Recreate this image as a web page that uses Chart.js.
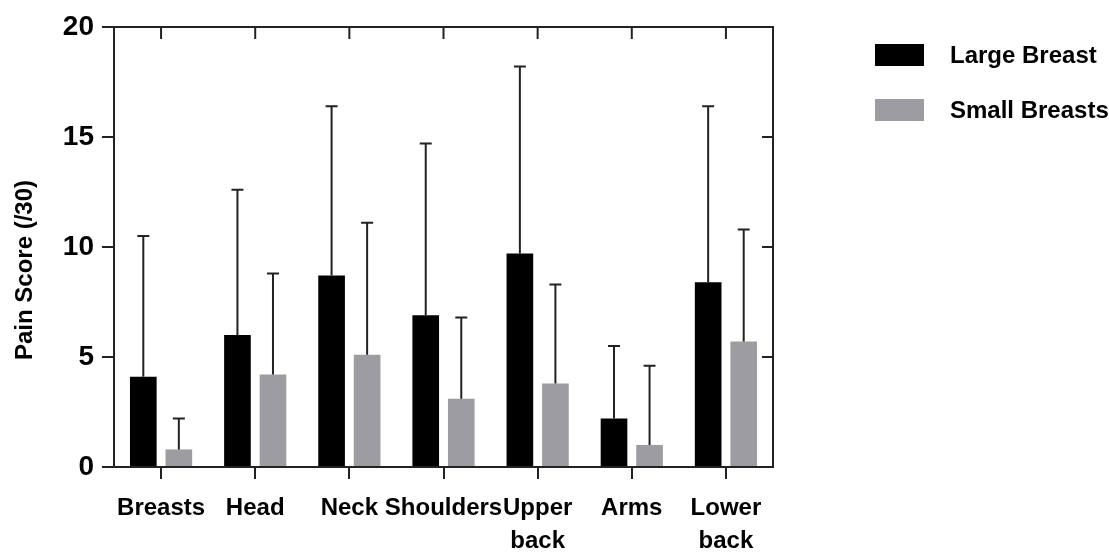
<!DOCTYPE html>
<html><head><meta charset="utf-8">
<script src="https://cdn.jsdelivr.net/npm/chart.js@4.4.0/dist/chart.umd.min.js"></script>
<style>html,body{margin:0;padding:0;background:#fff;} #wrap{width:1109px;height:556px;}</style>
</head><body><div id="wrap"><canvas id="c" width="1109" height="556"></canvas></div>
<script>
const categories = ['Breasts', 'Head', 'Neck', 'Shoulders', ['Upper', 'back'], 'Arms', ['Lower', 'back']];
const largeMeans = [4.1, 6.0, 8.7, 6.9, 9.7, 2.2, 8.4];
const largeSD    = [6.4, 6.6, 7.7, 7.8, 8.5, 3.3, 8.0];
const smallMeans = [0.8, 4.2, 5.1, 3.1, 3.8, 1.0, 5.7];
const smallSD    = [1.4, 4.6, 6.0, 3.7, 4.5, 3.6, 5.1];
const yTickValues = [0, 5, 10, 15, 20];
const seriesNames = ['Large Breast', 'Small Breasts'];
const yTitle = 'Pain Score (/30)';

const AXIS = '#222';
const SANS = '"Liberation Sans", Arial, sans-serif';

const errorBars = {
  id: 'errorBars',
  afterDatasetsDraw(chart) {
    const ctx = chart.ctx, y = chart.scales.y;
    chart.data.datasets.forEach((ds, i) => {
      const meta = chart.getDatasetMeta(i);
      meta.data.forEach((bar, j) => {
        const top = y.getPixelForValue(ds.data[j] + ds.errors[j]);
        ctx.save();
        ctx.strokeStyle = AXIS; ctx.lineWidth = 2;
        ctx.beginPath();
        ctx.moveTo(bar.x, bar.y); ctx.lineTo(bar.x, top);
        ctx.moveTo(bar.x - 6, top); ctx.lineTo(bar.x + 6, top);
        ctx.stroke();
        ctx.restore();
      });
    });
  }
};

const frame = {
  id: 'frame',
  afterDraw(chart) {
    const ctx = chart.ctx, a = chart.chartArea, x = chart.scales.x, y = chart.scales.y;
    ctx.save();
    ctx.strokeStyle = AXIS; ctx.lineWidth = 2;
    ctx.beginPath();
    ctx.moveTo(a.left, a.top); ctx.lineTo(a.right, a.top); ctx.lineTo(a.right, a.bottom);
    categories.forEach((c, i) => { const px = x.getPixelForValue(i); ctx.moveTo(px, a.top); ctx.lineTo(px, a.top + 12); });
    yTickValues.slice(1, -1).forEach(v => { const py = y.getPixelForValue(v); ctx.moveTo(a.right, py); ctx.lineTo(a.right - 11, py); });
    ctx.stroke();
    // y title
    ctx.fillStyle = '#000';
    ctx.font = 'bold 24px ' + SANS;
    ctx.textAlign = 'center'; ctx.textBaseline = 'middle';
    ctx.translate(a.left - 89, (a.top + a.bottom) / 2 + 23);
    ctx.rotate(-Math.PI / 2);
    ctx.fillText(yTitle, 0, 0);
    ctx.restore();
    // legend
    ctx.save();
    ctx.font = 'bold 24px ' + SANS;
    ctx.textAlign = 'left'; ctx.textBaseline = 'middle';
    chart.data.datasets.forEach((ds, i) => {
      const top = 44 + i * 55;
      ctx.fillStyle = ds.backgroundColor;
      ctx.fillRect(875, top, 49, 22);
      ctx.fillStyle = '#000';
      ctx.fillText(ds.label, 950, top + 12);
    });
    ctx.restore();
  }
};

new Chart(document.getElementById('c'), {
  type: 'bar',
  data: {
    labels: categories,
    datasets: [
      { label: seriesNames[0], data: largeMeans, errors: largeSD, backgroundColor: '#000000', borderWidth: 0, categoryPercentage: 0.755, barPercentage: 0.75 },
      { label: seriesNames[1], data: smallMeans, errors: smallSD, backgroundColor: '#9d9da1', borderWidth: 0, categoryPercentage: 0.755, barPercentage: 0.75 }
    ]
  },
  options: {
    responsive: false,
    animation: false,
    layout: { padding: { left: 0, right: 336, top: 27, bottom: 0 } },
    plugins: { legend: { display: false }, tooltip: { enabled: false }, title: { display: false } },
    scales: {
      x: {
        ticks: { color: '#000', font: { family: SANS, weight: 'bold', size: 24, lineHeight: 1.38 }, padding: 13, maxRotation: 0, autoSkip: false },
        grid: { offset: false, drawOnChartArea: false, drawTicks: true, tickLength: 12, color: AXIS, lineWidth: 2 },
        border: { display: true, color: AXIS, width: 2 },
        afterFit(s) { s.height = 89; }
      },
      y: {
        min: 0, max: 20,
        afterBuildTicks(s) { s.ticks = yTickValues.map(v => ({ value: v })); },
        ticks: { color: '#000', font: { family: SANS, weight: 'bold', size: 28 }, padding: 8 },
        grid: { drawOnChartArea: false, drawTicks: true, tickLength: 12, color: AXIS, lineWidth: 2 },
        border: { display: true, color: AXIS, width: 2 },
        afterFit(s) { s.width = 114; }
      }
    }
  },
  plugins: [errorBars, frame]
});
</script></body></html>
